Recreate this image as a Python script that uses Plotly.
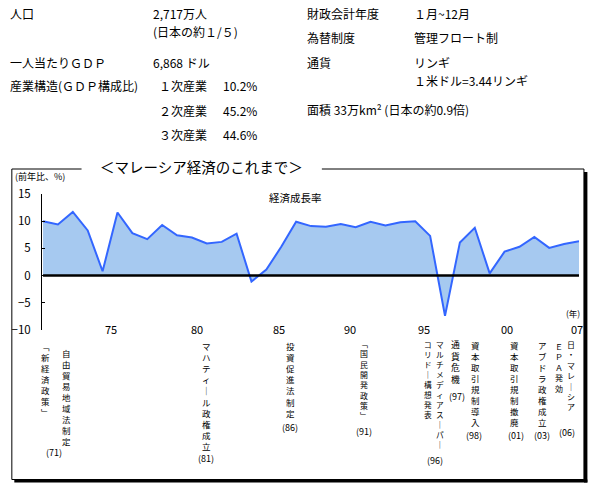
import plotly.graph_objects as go

# ---------------- data ----------------
years = list(range(1971, 2008))
growth = [10.0, 9.4, 11.7, 8.3, 0.8, 11.6, 7.8, 6.7, 9.3, 7.4,
          7.0, 5.9, 6.2, 7.7, -1.1, 1.1, 5.3, 9.9, 9.1, 9.0,
          9.5, 8.9, 9.9, 9.2, 9.8, 10.0, 7.3, -7.4, 6.1, 8.8,
          0.4, 4.4, 5.3, 7.1, 5.1, 5.8, 6.3]
y_ticks = [-10, -5, 0, 5, 10, 15]
x_tick_labels = ["75", "80", "85", "90", "95", "00", "07"]

info_left = [["人口", "2,717万人"], ["", "(日本の約１/５)"], ["一人当たりＧＤＰ", "6,868 ドル"],
             ["産業構造(ＧＤＰ構成比)", ""]]
sectors = ["１次産業", "２次産業", "３次産業"]
sector_share = ["10.2%", "45.2%", "44.6%"]
info_right = [["財政会計年度", "１月~12月"], ["為替制度", "管理フロート制"], ["通貨", "リンギ"],
              ["", "１米ドル=3.44リンギ"]]
area_text = "面積 33万km² (日本の約0.9倍)"

event_years = ["(71)", "(81)", "(86)", "(91)", "(96)", "(97)", "(98)", "(01)", "(03)", "(06)"]
event_columns = [
    ["﹁新経済政策﹂", "自由貿易地域法制定"],
    ["マハティ｜ル政権成立"],
    ["投資促進法制定"],
    ["﹁国民開発政策﹂"],
    ["マルチメディアス｜パ｜", "コリド｜構想発表"],
    ["通貨危機"],
    ["資本取引規制導入"],
    ["資本取引規制撤廃"],
    ["アブドラ政権成立"],
    ["日・マレ｜シア", "ＥＰＡ発効"],
]

# ---------------- layout geometry (pixels) ----------------
W_FIG, H_FIG = 596, 489
L, R, T, B = 36, 579, 194, 330
PW, PH = R - L, B - T


def xp(px):
    return (px - L) / PW


def yp(py):
    return (B - py) / PH


FONT = "Noto Sans CJK JP"

fig = go.Figure()
fig.add_trace(go.Scatter(
    x=years, y=growth, mode="lines", fill="tozeroy",
    fillcolor="#A6C9F0", line=dict(color="#3366FF", width=2),
    hoverinfo="x+y", showlegend=False))

shapes = []
# zero line
shapes.append(dict(type="line", xref="x", yref="y", x0=1971, x1=2007, y0=0, y1=0,
                   line=dict(color="black", width=2.5), layer="above"))


def pline(x0, y0, x1, y1, w=1):
    shapes.append(dict(type="line", xref="paper", yref="paper",
                       x0=xp(x0), y0=yp(y0), x1=xp(x1), y1=yp(y1),
                       line=dict(color="black", width=w)))


def prect(x0, y0, x1, y1):
    shapes.append(dict(type="rect", xref="paper", yref="paper",
                       x0=xp(x0), y0=yp(y0), x1=xp(x1), y1=yp(y1),
                       line=dict(width=0), fillcolor="black"))


# frame
pline(5.5, 169, 76, 169)
pline(319, 169, 584, 169)
pline(5.5, 169, 5.5, 479.5)
pline(5.5, 479.5, 584, 479.5)
pline(584, 169, 584, 479.5)
prect(584, 172, 587.5, 482.5)
prect(8, 479.5, 587.5, 482.5)

ann = []


def text(px, py, s, size=12, anchor="left", yanchor="middle"):
    ann.append(dict(x=xp(px), y=yp(py), xref="paper", yref="paper", text=s,
                    showarrow=False, xanchor=anchor, yanchor=yanchor,
                    borderpad=0,
                    font=dict(family=FONT, size=size, color="black")))


# top info
left_y = [14, 32, 62, 86]
for (a, b), yy in zip(info_left, left_y):
    if a:
        text(3, yy, a)
    if b:
        text(147, yy, b)
for i, (s, v) in enumerate(zip(sectors, sector_share)):
    text(153, 86 + 24 * i, s)
    text(218, 86 + 24 * i, v)
right_y = [14, 37, 62, 80]
for (a, b), yy in zip(info_right, right_y):
    if a:
        text(303, yy, a)
    if b:
        text(411, yy, b)
text(303, 109, area_text)

# chart texts
text(197, 166, "＜マレーシア経済のこれまで＞", size=14.5, anchor="center")
text(8, 176, "(前年比、%)", size=9)
text(292, 197, "経済成長率", size=10.5, anchor="center")
text(573, 313, "(年)", size=8.5, anchor="center")

# x tick labels
tick_px = [106, 193, 276, 347, 422, 506, 577]
for lab, px in zip(x_tick_labels, tick_px):
    text(px, 329, lab, size=11, anchor="center")

# event labels (vertical writing: one character per line)
col_geom = [
    [(40, 344, 11), (61, 351, 11)],
    [(202, 345, 11.1)],
    [(287, 345, 11.1)],
    [(362, 342, 10.3)],
    [(438, 343, 10.0), (426, 343, 10.0)],
    [(454, 343, 11.5)],
    [(474, 343, 11)],
    [(514, 343, 11)],
    [(542, 343, 11)],
    [(571, 343, 10.4), (559, 345, 10.4)],
]
year_geom = [(48, 452), (202, 458), (287, 427), (362, 431), (433, 460),
             (456, 396), (473, 435), (515, 435), (542, 435), (567, 432)]

for cols, geoms, ylab, yg in zip(event_columns, col_geom, event_years, year_geom):
    for s, (cx, cy, pitch) in zip(cols, geoms):
        size = pitch / 1.3
        text(cx, cy - pitch / 2, "<br>".join(s), size=size, anchor="center", yanchor="top")
    text(yg[0], yg[1], ylab, size=9, anchor="center")

fig.update_layout(
    width=W_FIG, height=H_FIG, autosize=False,
    margin=dict(l=L, r=W_FIG - R, t=T, b=H_FIG - B, pad=0),
    paper_bgcolor="white", plot_bgcolor="white",
    xaxis=dict(range=[1970.93, 2007.0], showline=False, showgrid=False,
               zeroline=False, showticklabels=False, ticks=""),
    yaxis=dict(range=[-10, 15], tickvals=y_ticks, ticks="inside", ticklen=3,
               tickcolor="black", showline=True, linecolor="black", linewidth=1,
               showgrid=False, zeroline=False, ticklabelstandoff=8,
               tickfont=dict(family=FONT, size=11.5, color="black")),
    shapes=shapes, annotations=ann, showlegend=False,
    font=dict(family=FONT),
)

fig.write_html("out.html")
